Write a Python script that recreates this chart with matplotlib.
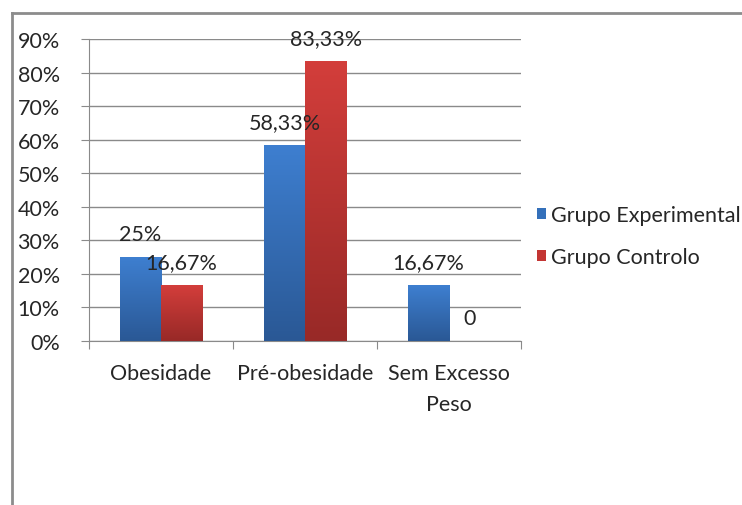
import matplotlib
matplotlib.use("Agg")
import matplotlib.pyplot as plt
import numpy as np
from matplotlib.lines import Line2D
from matplotlib.patches import Patch

categories = ["Obesidade", "Pré-obesidade", "Sem Excesso\nPeso"]
series_names = ["Grupo Experimental", "Grupo Controlo"]
experimental = [0.25, 0.5833, 0.1667]
controlo = [0.1667, 0.8333, 0.0]
exp_labels = ["25%", "58,33%", "16,67%"]
ctl_labels = ["16,67%", "83,33%", "0"]
yticks = [0, 0.1, 0.2, 0.3, 0.4, 0.5, 0.6, 0.7, 0.8, 0.9]
ytick_labels = ["0%", "10%", "20%", "30%", "40%", "50%", "60%", "70%", "80%", "90%"]

plt.rcParams['font.family'] = ['Lato', 'DejaVu Sans']
txt = "#262626"
grid_c = "#8a8a8a"
fs = 15.5

W, H = 742, 506
fig = plt.figure(figsize=(W/100, H/100), dpi=100)
ax = fig.add_axes([89/W, 1-342/H, (521-89)/W, (342-40)/H])

x = np.arange(len(categories))
bw = 0.2857
colors_top = ["#3E7FD0", "#D33E3B"]
colors_bot = ["#2A5895", "#982927"]

bars_e = ax.bar(x - bw/2, experimental, bw, color=colors_top[0], zorder=2)
bars_c = ax.bar(x + bw/2, controlo, bw, color=colors_top[1], zorder=2)

def gradient(bars, ctop, cbot):
    c1 = np.array(matplotlib.colors.to_rgb(ctop))
    c2 = np.array(matplotlib.colors.to_rgb(cbot))
    t = np.linspace(0, 1, 256)[:, None]
    img = (c1[None, :] * (1 - t) + c2[None, :] * t)[:, None, :]
    for b in bars:
        if b.get_height() <= 0:
            continue
        x0, y0 = b.get_x(), b.get_y()
        im = ax.imshow(img, extent=[x0, x0 + b.get_width(), y0, y0 + b.get_height()],
                       aspect='auto', zorder=3, origin='upper')
        im.set_clip_path(b)

gradient(bars_e, colors_top[0], colors_bot[0])
gradient(bars_c, colors_top[1], colors_bot[1])

for bars, labels in ((bars_e, exp_labels), (bars_c, ctl_labels)):
    for b, lab in zip(bars, labels):
        ax.annotate(lab, (b.get_x() + b.get_width()/2, b.get_height()), xytext=(0, 23),
                    textcoords='offset pixels', ha='center', va='center', fontsize=fs,
                    color=txt, zorder=5)

ax.set_xlim(-0.5, 2.5)
ax.set_ylim(0, 0.9)
ax.set_yticks(yticks)
ax.set_yticklabels(ytick_labels, fontsize=fs, color=txt)
ax.yaxis.grid(True, color=grid_c, linewidth=1, zorder=0)
ax.set_axisbelow(True)
ax.set_xticks([-0.5, 0.5, 1.5, 2.5])
ax.set_xticklabels([])
ax.set_xticks(x, minor=True)
ax.set_xticklabels(categories, minor=True, fontsize=fs, color=txt, linespacing=1.7)
ax.tick_params(axis='x', which='minor', length=0, pad=16)
ax.tick_params(axis='x', which='major', length=6, color=grid_c, direction='out')
ax.tick_params(axis='y', length=6, color=grid_c, direction='out', pad=15)
for s in ['top', 'right']:
    ax.spines[s].set_visible(False)
ax.spines['left'].set_color(grid_c)
ax.spines['bottom'].set_color(grid_c)

handles = [Patch(facecolor="#3470BA", edgecolor='none'), Patch(facecolor="#C33533", edgecolor='none')]
fig.legend(handles, series_names, loc='center left', bbox_to_anchor=(537/W, 1-237/H),
           frameon=False, fontsize=fs, handlelength=0.42, handleheight=0.42,
           handletextpad=0.25, labelspacing=1.03, borderpad=0, borderaxespad=0,
           labelcolor=txt)

# outer frame
fig.add_artist(Line2D([12/W, 12/W], [0, 1-14/H], transform=fig.transFigure, color="#8c8c8c", lw=2))
fig.add_artist(Line2D([12/W, 1], [1-14/H, 1-14/H], transform=fig.transFigure, color="#8c8c8c", lw=2))

fig.savefig("out.png", dpi=100)
